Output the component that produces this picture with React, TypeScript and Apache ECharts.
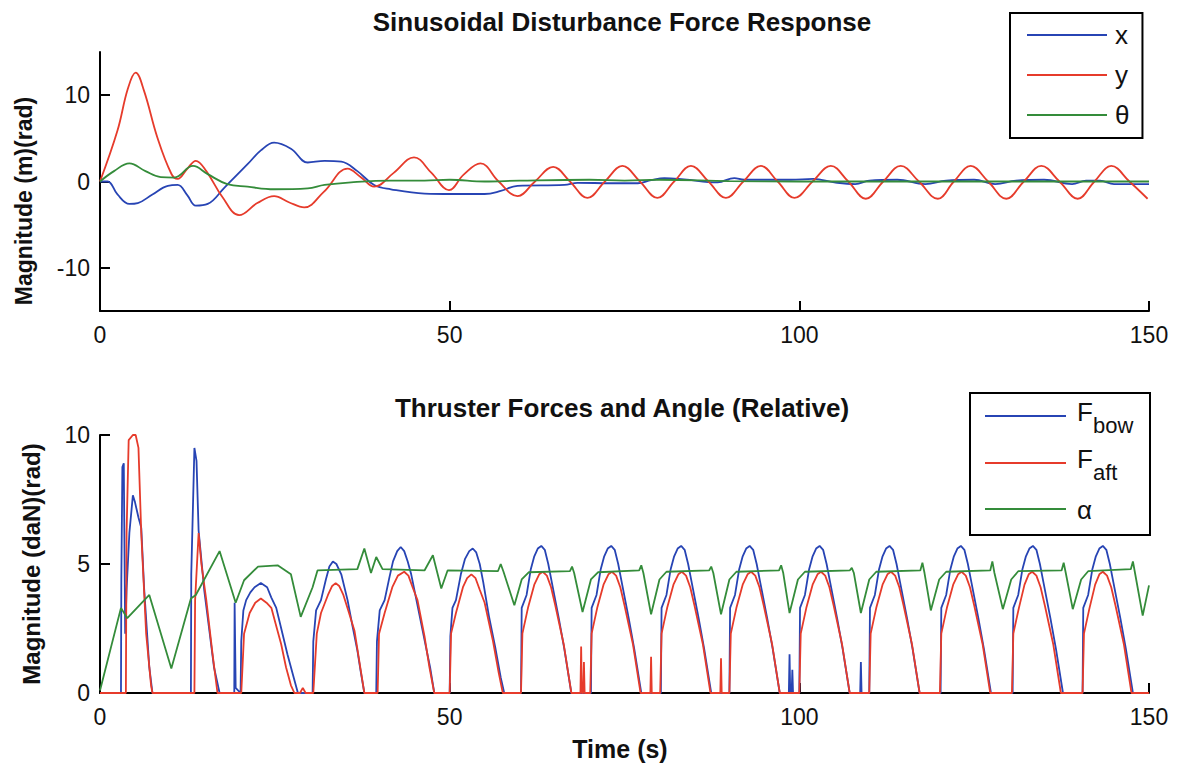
import React, { useEffect, useRef } from 'react';
import * as echarts from 'echarts';

const FONT = "'Liberation Sans', Arial, Helvetica, sans-serif";

const timeTicks = [0, 50, 100, 150];
const posTicks = [-10, 0, 10];
const forceTicks = [0, 5, 10];

const topNames = ['x', 'y', 'θ'];
const bottomNames = ['F_bow', 'F_aft', 'α'];

// Top plot: Sinusoidal Disturbance Force Response  [time s, value]
const xPos: number[][] = [
  [0, 0], [1.1, 0], [2.5, -1.5], [4.2, -2.6], [5.4, -2.5], [7.5, -1.5], [9.7, -0.5], [11.1, -0.4],
  [12.5, -1.6], [13.7, -2.8], [15.4, -2.6], [17.8, -0.7], [21.1, 2.0], [23, 3.6], [24.9, 4.5],
  [27.3, 3.8], [29.7, 2.2], [32.1, 2.4], [34.5, 2.3], [36.8, 1.2], [39.2, -0.4], [41.6, -0.9],
  [46.4, -1.4], [50.2, -1.45], [55, -1.45], [57.3, -1.1], [59.7, -0.5], [66.4, -0.4], [68.3, -0.15],
  [73.1, -0.2], [76.9, -0.2], [78.8, 0.15], [80.7, 0.4], [83.5, 0.25], [88.3, -0.1], [90.7, 0.4],
  [92.1, 0.2], [98.8, 0.2], [102, 0.3], [105, -0.1], [108, -0.3], [110, 0.1], [114, 0.2], [118, -0.3],
  [121, 0.1], [125, 0.2], [128, -0.3], [131, 0.1], [135, 0.2], [139, -0.3], [141, 0.1], [143, 0.1],
  [145, -0.3], [150, -0.3],
];

const yPos: number[][] = [
  [0, 0], [2.5, 5.9], [4, 10.8], [5.1, 12.6], [6.3, 10.5], [8.2, 5.1], [10.2, 0.9], [11.1, 0.3],
  [12.5, 1.5], [13.7, 2.4], [15.2, 1.2], [17.5, -1.8], [19.9, -3.9], [22.5, -2.5], [24.9, -1.7],
  [27, -2.4], [29.2, -3.0], [32, -1.2], [35.4, 1.5], [37.3, 0.5], [39.2, -0.6], [42, 1], [44.9, 2.8],
  [47.4, 1], [49.9, -1.0], [52, 0.8], [54.4, 2.1], [57, 0], [59.7, -1.7], [62.2, 0], [64.8, 1.7],
  [67.2, 0], [69.7, -1.9], [72.2, 0], [74.7, 1.8], [77.2, 0], [79.7, -1.9], [82.1, 0], [84.5, 1.8],
  [87, 0], [89.5, -1.9], [92, 0], [94.5, 1.8], [96.9, 0], [99.3, -1.9], [101.9, 0], [104.5, 1.8],
  [107, 0], [109.5, -2.0], [112, 0], [114.5, 1.8], [117.1, 0], [119.8, -2.0], [122.1, 0], [124.5, 1.8],
  [127, 0], [129.6, -2.0], [132.1, 0], [134.6, 1.8], [137.2, 0], [139.8, -2.0], [142.2, 0], [144.6, 1.8],
  [147.2, 0], [149.8, -2.0],
];

const thetaPos: number[][] = [
  [0, 0], [2, 1.2], [4.2, 2.1], [6.5, 1.2], [8.7, 0.5], [10.6, 0.45], [13.3, 1.8], [15.4, 0.85],
  [18.2, -0.3], [21.1, -0.6], [24.9, -0.9], [29.7, -0.8], [32.1, -0.4], [35.9, -0.1], [41.6, 0.1],
  [46.4, 0.1], [50, 0.2], [55, 0], [60, 0.1], [70, 0.2], [75, 0.1], [80, 0.2], [90, 0.05], [100, 0],
  [150, 0],
];

// Bottom plot: Thruster Forces and Angle (Relative)
const fBow: number[][] = [
  [0, 0], [3.0, 0], [3.05, 4.4], [3.2, 8.76], [3.4, 8.9], [3.6, 2.3], [3.8, 4], [4.2, 6.2], [4.7, 7.66],
  [5.0, 7.4], [5.5, 6.8], [5.9, 6.4], [6.3, 4.1], [7.05, 1.0], [7.5, 0],
  [13.0, 0], [13.05, 4.6], [13.5, 9.5], [13.8, 9.0], [14.1, 6.3], [14.9, 4.0], [15.6, 2.5], [16.3, 1.0], [17.1, 0],
  [19.2, 0], [19.25, 3.5], [19.4, 0.2], [20.1, 0], [20.2, 2.0], [20.5, 3.2], [20.9, 3.6], [21.5, 3.9],
  [22.1, 4.1], [23.0, 4.26], [23.9, 4.1], [24.5, 3.7], [25.2, 3.3], [26.0, 2.4], [26.8, 1.5], [27.6, 0.7], [28.3, 0],
  [30.4, 0], [30.5, 2.0], [30.9, 3.2], [31.6, 3.6], [32.3, 4.4], [32.8, 4.9], [33.3, 5.1], [33.8, 5.0], [34.5, 4.6],
  [35.4, 3.6], [36.1, 2.6], [36.8, 1.65], [37.3, 0.8], [37.8, 0],
  [39.5, 0], [39.6, 2.0], [40.0, 3.2], [40.7, 3.6], [41.4, 4.5], [41.9, 5.1], [42.5, 5.5], [43.0, 5.66], [43.5, 5.5],
  [44.0, 5.1], [44.5, 4.6], [45.7, 3.0], [46.6, 1.8], [47.2, 1.0], [47.8, 0],
  [50.0, 0], [50.1, 2.2], [50.4, 3.3], [50.9, 3.6], [51.6, 4.6], [52.2, 5.2], [52.8, 5.5], [53.3, 5.6], [53.8, 5.45],
  [54.3, 5.0], [54.8, 4.3], [55.6, 3.0], [56.5, 1.8], [57.3, 0.6], [57.8, 0],
  [60.2, 0], [60.3, 3.3], [61.0, 3.8], [61.6, 4.8], [62.1, 5.3], [62.6, 5.6], [63.1, 5.7], [63.6, 5.55], [64.1, 5.0], [64.6, 4.3], [65.6, 2.9], [66.4, 1.7], [67.4, 0],
  [70.2, 0], [70.3, 3.3], [71.0, 3.8], [71.6, 4.8], [72.1, 5.3], [72.6, 5.6], [73.1, 5.7], [73.6, 5.55], [74.1, 5.0], [74.6, 4.3], [75.6, 2.9], [76.4, 1.7], [77.4, 0],
  [80.2, 0], [80.3, 3.3], [81.0, 3.8], [81.6, 4.8], [82.1, 5.3], [82.6, 5.6], [83.1, 5.7], [83.6, 5.55], [84.1, 5.0], [84.6, 4.3], [85.6, 2.9], [86.4, 1.7], [87.4, 0],
  [90.0, 0], [90.1, 3.3], [90.8, 3.8], [91.4, 4.8], [91.9, 5.3], [92.4, 5.6], [92.9, 5.7], [93.4, 5.55], [93.9, 5.0], [94.4, 4.3], [95.4, 2.9], [96.2, 1.7], [97.2, 0],
  [98.5, 0], [98.6, 1.5], [98.7, 0], [98.9, 0], [99.0, 0.9], [99.1, 0],
  [100.0, 0], [100.1, 3.3], [100.8, 3.8], [101.4, 4.8], [101.9, 5.3], [102.4, 5.6], [102.9, 5.7], [103.4, 5.55], [103.9, 5.0], [104.4, 4.3], [105.4, 2.9], [106.2, 1.7], [107.2, 0],
  [108.7, 0], [108.8, 1.2], [108.9, 0],
  [110.0, 0], [110.1, 3.3], [110.8, 3.8], [111.4, 4.8], [111.9, 5.3], [112.4, 5.6], [112.9, 5.7], [113.4, 5.55], [113.9, 5.0], [114.4, 4.3], [115.4, 2.9], [116.2, 1.7], [117.2, 0],
  [120.2, 0], [120.3, 3.3], [121.0, 3.8], [121.6, 4.8], [122.1, 5.3], [122.6, 5.6], [123.1, 5.7], [123.6, 5.55], [124.1, 5.0], [124.6, 4.3], [125.6, 2.9], [126.4, 1.7], [127.4, 0],
  [130.5, 0], [130.6, 3.3], [131.3, 3.8], [131.9, 4.8], [132.4, 5.3], [132.9, 5.6], [133.4, 5.7], [133.9, 5.55], [134.4, 5.0], [134.9, 4.3], [135.9, 2.9], [136.7, 1.7], [137.7, 0],
  [140.5, 0], [140.6, 3.3], [141.3, 3.8], [141.9, 4.8], [142.4, 5.3], [142.9, 5.6], [143.4, 5.7], [143.9, 5.55], [144.4, 5.0], [144.9, 4.3], [145.9, 2.9], [146.7, 1.7], [147.7, 0],
  [150, 0],
];

const fAft: number[][] = [
  [0, 0], [3.7, 0], [3.8, 6.2], [4.1, 9.8], [4.7, 10.0], [5.1, 10.0], [5.5, 9.5], [5.9, 6.2], [6.6, 2.3], [7.3, 0.3], [7.5, 0],
  [13.5, 0], [13.6, 3.6], [14.1, 6.2], [14.5, 5.0], [15.2, 3.6], [16.1, 1.5], [16.8, 0],
  [20.2, 0], [20.6, 2.3], [21.4, 3.1], [22.2, 3.5], [23.0, 3.66], [23.8, 3.5], [24.5, 3.3], [25.2, 2.6],
  [25.9, 1.9], [26.6, 1.0], [27.3, 0.3], [27.8, 0], [28.6, 0], [29.0, 0.2], [29.4, 0], [30.5, 0],
  [31.0, 2.3], [31.6, 3.1], [32.6, 3.8], [33.2, 4.15], [33.7, 4.26], [34.2, 4.15], [34.8, 3.8], [35.5, 3.2], [36.4, 2.4], [37.1, 1.2], [37.8, 0],
  [39.7, 0], [39.9, 2.3], [40.7, 3.1], [41.8, 4.1], [42.6, 4.55], [43.5, 4.7], [44.1, 4.55], [44.7, 4.1], [45.4, 3.6], [46.4, 2.2], [47.1, 1.0], [47.8, 0],
  [50.0, 0], [50.2, 2.3], [50.9, 3.1], [51.9, 4.1], [52.5, 4.45], [53.1, 4.6], [53.7, 4.45], [54.3, 4.0], [55.0, 3.5], [56.2, 2.0], [57.0, 0.8], [57.6, 0],
  [60.2, 0], [60.4, 2.3], [61.2, 3.3], [62.1, 4.2], [62.8, 4.6], [63.3, 4.7], [63.9, 4.55], [64.5, 4.1], [65.1, 3.4], [66.3, 1.9], [67.4, 0],
  [68.7, 0], [68.8, 1.8], [68.9, 0], [69.1, 0], [69.2, 1.2], [69.3, 0],
  [70.1, 0], [70.3, 2.3], [71.1, 3.3], [72.0, 4.2], [72.7, 4.6], [73.2, 4.7], [73.8, 4.55], [74.4, 4.1], [75.0, 3.4], [76.2, 1.9], [77.3, 0],
  [78.7, 0], [78.8, 1.4], [78.9, 0],
  [80.1, 0], [80.3, 2.3], [81.1, 3.3], [82.0, 4.2], [82.7, 4.6], [83.2, 4.7], [83.8, 4.55], [84.4, 4.1], [85.0, 3.4], [86.2, 1.9], [87.3, 0],
  [88.7, 0], [88.8, 1.35], [88.9, 0],
  [90.0, 0], [90.2, 2.3], [91.0, 3.3], [91.9, 4.2], [92.6, 4.6], [93.1, 4.7], [93.7, 4.55], [94.3, 4.1], [94.9, 3.4], [96.1, 1.9], [97.2, 0],
  [100.0, 0], [100.2, 2.3], [101.0, 3.3], [101.9, 4.2], [102.6, 4.6], [103.1, 4.7], [103.7, 4.55], [104.3, 4.1], [104.9, 3.4], [106.1, 1.9], [107.2, 0],
  [110.0, 0], [110.2, 2.3], [111.0, 3.3], [111.9, 4.2], [112.6, 4.6], [113.1, 4.7], [113.7, 4.55], [114.3, 4.1], [114.9, 3.4], [116.1, 1.9], [117.2, 0],
  [120.1, 0], [120.3, 2.3], [121.1, 3.3], [122.0, 4.2], [122.7, 4.6], [123.2, 4.7], [123.8, 4.55], [124.4, 4.1], [125.0, 3.4], [126.2, 1.9], [127.3, 0],
  [130.4, 0], [130.6, 2.3], [131.4, 3.3], [132.2, 4.2], [132.8, 4.6], [133.3, 4.7], [133.9, 4.55], [134.5, 4.1], [135.1, 3.4], [136.3, 1.9], [137.4, 0],
  [140.5, 0], [140.7, 2.3], [141.5, 3.3], [142.3, 4.2], [142.9, 4.6], [143.4, 4.7], [144.0, 4.55], [144.6, 4.1], [145.2, 3.4], [146.4, 1.9], [147.5, 0],
  [150, 0],
];

const alpha: number[][] = [
  [0, 0.1], [3.0, 3.3], [3.9, 2.9], [7.05, 3.8], [10.2, 0.95], [13.0, 3.66], [13.7, 3.8], [17.1, 5.5],
  [19.4, 3.5], [20.6, 4.37], [22.6, 4.9], [25.4, 4.95], [27.3, 4.6], [28.7, 2.95], [30.4, 4.1], [31.1, 4.75],
  [36.8, 4.8], [37.8, 5.6], [38.75, 4.65], [39.5, 5.27], [40.4, 4.8], [46.4, 4.75], [47.6, 5.34], [48.8, 4.05],
  [49.7, 4.75], [56.9, 4.72], [57.3, 5.0], [57.7, 4.7], [59.25, 3.4], [60.3, 4.4], [61.3, 4.68],
  [67.2, 4.72], [67.5, 4.9], [67.8, 4.65], [69.0, 3.14], [70.2, 4.4], [71.2, 4.68],
  [77.1, 4.75], [77.4, 4.95], [77.7, 4.65], [78.8, 3.05], [80.0, 4.4], [81.0, 4.7],
  [87.1, 4.75], [87.4, 4.9], [87.7, 4.65], [88.8, 3.05], [90.0, 4.4], [91.0, 4.7],
  [97.1, 4.75], [97.4, 4.95], [97.7, 4.65], [98.6, 3.1], [99.8, 4.4], [100.8, 4.7],
  [107.2, 4.75], [107.5, 4.85], [107.8, 4.65], [108.8, 3.1], [110.0, 4.4], [111.0, 4.7],
  [117.3, 4.75], [117.6, 5.05], [117.9, 4.65], [118.8, 3.2], [120.0, 4.4], [121.0, 4.7],
  [127.3, 4.75], [127.6, 5.1], [127.9, 4.65], [129.1, 3.25], [130.3, 4.4], [131.3, 4.72],
  [137.5, 4.75], [137.8, 5.05], [138.1, 4.65], [139.1, 3.25], [140.3, 4.4], [141.3, 4.72],
  [147.4, 4.8], [147.7, 5.1], [148.0, 4.65], [149.1, 3.0], [150, 4.17],
];

const BLUE = '#2744b4';
const RED = '#e63b2b';
const GREEN = '#348c3a';
const INK = '#111';

const axisLine = { show: true, onZero: false, lineStyle: { color: '#000', width: 2 } };
const axisTick = { show: true, inside: true, length: 10, lineStyle: { color: '#000', width: 2 } };
const labelStyle = { color: INK, fontSize: 23, fontFamily: FONT };

function lineSeries(name: string, data: number[][], color: string, idx: number, smooth: number | boolean) {
  return {
    type: 'line',
    name,
    data,
    xAxisIndex: idx,
    yAxisIndex: idx,
    color,
    showSymbol: false,
    symbol: 'none',
    smooth,
    lineStyle: { color, width: 1.8 },
    emphasis: { disabled: true },
  };
}

function text(str: string, x: number, y: number, font: string, extra: any = {}) {
  return {
    type: 'text',
    x,
    y,
    silent: true,
    ...extra,
    style: { text: str, font, fill: INK, textAlign: extra.align || 'center', textVerticalAlign: 'middle' },
  };
}

export default function App() {
  const ref = useRef<HTMLDivElement>(null);
  useEffect(() => {
    if (!ref.current) return;
    const chart = echarts.init(ref.current, null, { renderer: 'svg' });
    const legendLineX1 = 985;
    const legendLineX2 = 1066;
    const legendRows = [416, 463, 509];
    const option: any = {
      animation: false,
      backgroundColor: '#fff',
      grid: [
        { left: 100, top: 52, width: 1049, height: 259, containLabel: false, outerBoundsMode: 'none' },
        { left: 100, top: 435, width: 1049, height: 258, containLabel: false, outerBoundsMode: 'none' },
      ],
      xAxis: [0, 1].map((i) => ({
        type: 'value',
        gridIndex: i,
        min: 0,
        max: 150,
        interval: 50,
        axisLine,
        axisTick: { ...axisTick, customValues: timeTicks },
        splitLine: { show: false },
        axisLabel: { ...labelStyle, margin: 12, customValues: timeTicks, showMinLabel: true, showMaxLabel: true },
      })),
      yAxis: [
        {
          type: 'value',
          gridIndex: 0,
          min: -15,
          max: 15,
          axisLine,
          axisTick: { ...axisTick, customValues: posTicks },
          splitLine: { show: false },
          axisLabel: { ...labelStyle, margin: 10, customValues: posTicks },
        },
        {
          type: 'value',
          gridIndex: 1,
          min: 0,
          max: 10,
          interval: 5,
          axisLine,
          axisTick: { ...axisTick, customValues: forceTicks },
          splitLine: { show: false },
          axisLabel: { ...labelStyle, margin: 10, customValues: forceTicks },
        },
      ],
      legend: [
        {
          data: topNames,
          orient: 'vertical',
          left: 1010,
          top: 13,
          padding: [7, 13, 8, 17],
          itemGap: 10,
          itemWidth: 80,
          itemHeight: 2,
          icon: 'rect',
          borderColor: '#000',
          borderWidth: 2,
          backgroundColor: '#fff',
          selectedMode: false,
          textStyle: { color: INK, fontSize: 26, lineHeight: 30, fontFamily: FONT, padding: [0, 0, 0, 3] },
        },
      ],
      series: [
        lineSeries('x', xPos, BLUE, 0, 0.4),
        lineSeries('y', yPos, RED, 0, 0.4),
        lineSeries('θ', thetaPos, GREEN, 0, 0.4),
        lineSeries(bottomNames[0], fBow, BLUE, 1, false),
        lineSeries(bottomNames[1], fAft, RED, 1, false),
        lineSeries(bottomNames[2], alpha, GREEN, 1, false),
      ],
      graphic: [
        text('Sinusoidal Disturbance Force Response', 622, 22, `bold 26px ${FONT}`),
        text('Thruster Forces and Angle (Relative)', 622, 408, `bold 26px ${FONT}`),
        text('Time (s)', 620, 749, `bold 25px ${FONT}`),
        text('Magnitude (m)(rad)', 24, 201, `bold 23px ${FONT}`, { rotation: Math.PI / 2 }),
        text('Magnitude (daN)(rad)', 31, 564, `bold 24px ${FONT}`, { rotation: Math.PI / 2 }),
        // bottom legend (F with subscripts)
        {
          type: 'rect',
          silent: true,
          shape: { x: 970, y: 393, width: 180, height: 142 },
          style: { fill: '#fff', stroke: '#000', lineWidth: 2 },
          z: 10,
        },
        ...[BLUE, RED, GREEN].map((c, i) => ({
          type: 'line',
          silent: true,
          z: 11,
          shape: { x1: legendLineX1, y1: legendRows[i], x2: legendLineX2, y2: legendRows[i] },
          style: { stroke: c, lineWidth: 2 },
        })),
        { ...text('F', 1077, 412, `26px ${FONT}`, { align: 'left' }), z: 11 },
        { ...text('bow', 1093, 425, `22px ${FONT}`, { align: 'left' }), z: 11 },
        { ...text('F', 1077, 459, `26px ${FONT}`, { align: 'left' }), z: 11 },
        { ...text('aft', 1093, 472, `22px ${FONT}`, { align: 'left' }), z: 11 },
        { ...text('α', 1077, 510, `26px ${FONT}`, { align: 'left' }), z: 11 },
      ],
    };
    chart.setOption(option);
    return () => chart.dispose();
  }, []);
  return (
    <div
      ref={ref}
      style={{ position: 'absolute', left: 0, top: 0, width: 1179, height: 768, background: '#fff' }}
    />
  );
}
